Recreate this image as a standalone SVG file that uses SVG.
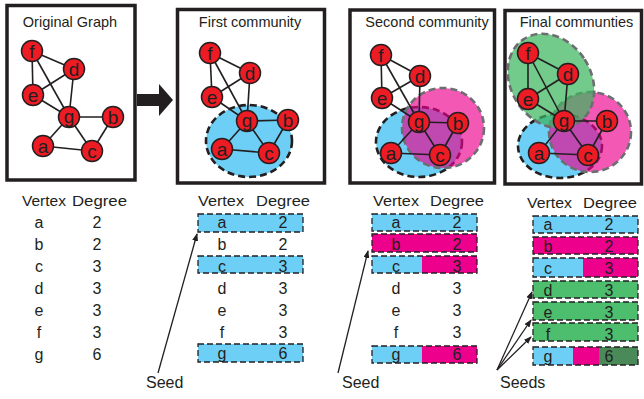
<svg xmlns="http://www.w3.org/2000/svg" width="644" height="399" viewBox="0 0 644 399">
<defs>
<style>
.panel{fill:#fff;stroke:#231f20;stroke-width:3.5}
.title{font-family:"Liberation Sans",Arial,sans-serif;font-size:14.5px;fill:#231f20;text-anchor:middle}
.edge{stroke:#231f20;stroke-width:1.6;fill:none}
.node circle{fill:#ed1c24;stroke:#231f20;stroke-width:1.5}
.node text{font-family:"Liberation Sans",Arial,sans-serif;font-size:19px;fill:#231f20;text-anchor:middle}
.blue{fill:#6dcff6;stroke:#231f20;stroke-width:2.6;stroke-dasharray:7 4}
.pink{fill:#ec008c;fill-opacity:0.65;stroke:#6d6e71;stroke-width:2.6;stroke-dasharray:7 4}
.green{fill:#3cb55e;fill-opacity:0.72;stroke:#6d6e71;stroke-width:2.6;stroke-dasharray:7 4}
.tt{font-family:"Liberation Sans",Arial,sans-serif;font-size:16px;fill:#231f20}
.th{font-family:"Liberation Sans",Arial,sans-serif;font-size:15.5px;fill:#231f20}
.tc{font-family:"Liberation Sans",Arial,sans-serif;font-size:16px;fill:#231f20;text-anchor:middle}
.box{fill:none;stroke:#231f20;stroke-width:1.3;stroke-dasharray:6 3}
.cb{fill:#6dcff6}
.cp{fill:#ec008c}
.cg{fill:#4dbd6e}
.cd{fill:#4a8a58}
.seed{stroke:#231f20;stroke-width:1.3;fill:none;marker-end:url(#ah)}
</style>
<marker id="ah" markerWidth="8" markerHeight="6" refX="7" refY="3" orient="auto" markerUnits="userSpaceOnUse">
<path d="M0,0 L8,3 L0,6 Z" fill="#231f20"/>
</marker>
</defs>

<!-- Panels -->
<rect class="panel" x="7" y="5.5" width="128" height="174.5"/>
<rect class="panel" x="177.5" y="9.5" width="147" height="173.5"/>
<rect class="panel" x="350" y="10" width="144.5" height="173"/>
<rect class="panel" x="505" y="10.5" width="136.5" height="173.5"/>
<text class="title" x="70" y="27">Original Graph</text>
<text class="title" x="250" y="27">First community</text>
<text class="title" x="427" y="27">Second community</text>
<text class="title" x="576.5" y="27">Final communties</text>

<!-- Big arrow -->
<polygon points="137,94 159,94 159,84 173,100 159,116 159,106 137,106" fill="#231f20"/>

<!-- Community regions -->
<ellipse class="blue" cx="249" cy="141" rx="43" ry="36"/>
<ellipse class="blue" cx="419" cy="142" rx="43" ry="35"/>
<ellipse class="pink" cx="443" cy="128" rx="41" ry="40"/>
<ellipse class="blue" cx="560" cy="146" rx="42" ry="32"/>
<ellipse class="pink" cx="590" cy="132" rx="41" ry="40"/>
<ellipse class="green" cx="551" cy="81" rx="40" ry="50" transform="rotate(-33 551 81)"/>

<!-- Connectors -->
<g id="connectors">
<g id="edges-p1" class="edge">
<line x1="32" y1="51" x2="74" y2="69"/><line x1="32" y1="51" x2="33" y2="95"/><line x1="32" y1="51" x2="69" y2="117"/>
<line x1="74" y1="69" x2="33" y2="95"/><line x1="74" y1="69" x2="69" y2="117"/><line x1="33" y1="95" x2="69" y2="117"/>
<line x1="69" y1="117" x2="113" y2="117"/><line x1="69" y1="117" x2="43" y2="146"/><line x1="69" y1="117" x2="92" y2="151"/>
<line x1="43" y1="146" x2="92" y2="151"/><line x1="113" y1="117" x2="92" y2="151"/>
</g>
<g id="edges-p2" class="edge">
<line x1="210" y1="53" x2="250" y2="73"/><line x1="210" y1="53" x2="212" y2="97"/><line x1="210" y1="53" x2="247" y2="121"/>
<line x1="250" y1="73" x2="212" y2="97"/><line x1="250" y1="73" x2="247" y2="121"/><line x1="212" y1="97" x2="247" y2="121"/>
<line x1="247" y1="121" x2="288" y2="120"/><line x1="247" y1="121" x2="222" y2="149"/><line x1="247" y1="121" x2="269" y2="153"/>
<line x1="222" y1="149" x2="269" y2="153"/><line x1="288" y1="120" x2="269" y2="153"/>
</g>
<g id="edges-p3" class="edge">
<line x1="381" y1="55" x2="420" y2="76"/><line x1="381" y1="55" x2="382" y2="98"/><line x1="381" y1="55" x2="419" y2="122"/>
<line x1="420" y1="76" x2="382" y2="98"/><line x1="420" y1="76" x2="419" y2="122"/><line x1="382" y1="98" x2="419" y2="122"/>
<line x1="419" y1="122" x2="458" y2="123"/><line x1="419" y1="122" x2="391" y2="153"/><line x1="419" y1="122" x2="440" y2="155"/>
<line x1="391" y1="153" x2="440" y2="155"/><line x1="458" y1="123" x2="440" y2="155"/>
</g>
<g id="edges-p4" class="edge">
<line x1="528" y1="53" x2="568" y2="74"/><line x1="528" y1="53" x2="528" y2="99"/><line x1="528" y1="53" x2="564" y2="121"/>
<line x1="568" y1="74" x2="528" y2="99"/><line x1="568" y1="74" x2="564" y2="121"/><line x1="528" y1="99" x2="564" y2="121"/>
<line x1="564" y1="121" x2="607" y2="121"/><line x1="564" y1="121" x2="539" y2="153"/><line x1="564" y1="121" x2="588" y2="155"/>
<line x1="539" y1="153" x2="588" y2="155"/><line x1="607" y1="121" x2="588" y2="155"/>
</g>
<g id="seed-arrows">
<line class="seed" x1="158" y1="373" x2="197" y2="234"/>
<line class="seed" x1="338" y1="373" x2="368" y2="251"/>
<line class="seed" x1="497" y1="370" x2="532" y2="292"/>
<line class="seed" x1="497" y1="370" x2="531" y2="320"/>
<line class="seed" x1="497" y1="370" x2="531" y2="337"/>
</g>
</g>

<!-- Nodes panel 1 -->
<g id="p1-f" class="node"><circle cx="32" cy="51" r="10.5"/><text x="32" y="57.5">f</text></g>
<g id="p1-d" class="node"><circle cx="74" cy="69" r="10.5"/><text x="74" y="75.5">d</text></g>
<g id="p1-e" class="node"><circle cx="33" cy="95" r="10.5"/><text x="33" y="101.5">e</text></g>
<g id="p1-g" class="node"><circle cx="69" cy="117" r="10.5"/><text x="69" y="122.5">g</text></g>
<g id="p1-b" class="node"><circle cx="113" cy="117" r="10.5"/><text x="113" y="123.5">b</text></g>
<g id="p1-a" class="node"><circle cx="43" cy="146" r="10.5"/><text x="43" y="152.5">a</text></g>
<g id="p1-c" class="node"><circle cx="92" cy="151" r="10.5"/><text x="92" y="157.5">c</text></g>
<!-- Nodes panel 2 -->
<g id="p2-f" class="node"><circle cx="210" cy="53" r="10.5"/><text x="210" y="59.5">f</text></g>
<g id="p2-d" class="node"><circle cx="250" cy="73" r="10.5"/><text x="250" y="79.5">d</text></g>
<g id="p2-e" class="node"><circle cx="212" cy="97" r="10.5"/><text x="212" y="103.5">e</text></g>
<g id="p2-g" class="node"><circle cx="247" cy="121" r="10.5"/><text x="247" y="126.5">g</text></g>
<g id="p2-b" class="node"><circle cx="288" cy="120" r="10.5"/><text x="288" y="126.5">b</text></g>
<g id="p2-a" class="node"><circle cx="222" cy="149" r="10.5"/><text x="222" y="155.5">a</text></g>
<g id="p2-c" class="node"><circle cx="269" cy="153" r="10.5"/><text x="269" y="159.5">c</text></g>
<!-- Nodes panel 3 -->
<g id="p3-f" class="node"><circle cx="381" cy="55" r="10.5"/><text x="381" y="61.5">f</text></g>
<g id="p3-d" class="node"><circle cx="420" cy="76" r="10.5"/><text x="420" y="82.5">d</text></g>
<g id="p3-e" class="node"><circle cx="382" cy="98" r="10.5"/><text x="382" y="104.5">e</text></g>
<g id="p3-g" class="node"><circle cx="419" cy="122" r="10.5"/><text x="419" y="127.5">g</text></g>
<g id="p3-b" class="node"><circle cx="458" cy="123" r="10.5"/><text x="458" y="129.5">b</text></g>
<g id="p3-a" class="node"><circle cx="391" cy="153" r="10.5"/><text x="391" y="159.5">a</text></g>
<g id="p3-c" class="node"><circle cx="440" cy="155" r="10.5"/><text x="440" y="161.5">c</text></g>
<!-- Nodes panel 4 -->
<g id="p4-f" class="node"><circle cx="528" cy="53" r="10.5"/><text x="528" y="59.5">f</text></g>
<g id="p4-d" class="node"><circle cx="568" cy="74" r="10.5"/><text x="568" y="80.5">d</text></g>
<g id="p4-e" class="node"><circle cx="528" cy="99" r="10.5"/><text x="528" y="105.5">e</text></g>
<g id="p4-g" class="node"><circle cx="564" cy="121" r="10.5"/><text x="564" y="126.5">g</text></g>
<g id="p4-b" class="node"><circle cx="607" cy="121" r="10.5"/><text x="607" y="127.5">b</text></g>
<g id="p4-a" class="node"><circle cx="539" cy="153" r="10.5"/><text x="539" y="159.5">a</text></g>
<g id="p4-c" class="node"><circle cx="588" cy="155" r="10.5"/><text x="588" y="161.5">c</text></g>

<!-- Table 1 -->
<g id="table1">
<text class="th" x="22" y="206" textLength="44" lengthAdjust="spacingAndGlyphs">Vertex</text><text class="th" x="72" y="206" textLength="55" lengthAdjust="spacingAndGlyphs">Degree</text>
<text class="tc" x="39" y="228">a</text><text class="tc" x="97" y="228">2</text>
<text class="tc" x="39" y="250">b</text><text class="tc" x="97" y="250">2</text>
<text class="tc" x="39" y="272">c</text><text class="tc" x="97" y="272">3</text>
<text class="tc" x="39" y="294">d</text><text class="tc" x="97" y="294">3</text>
<text class="tc" x="39" y="316">e</text><text class="tc" x="97" y="316">3</text>
<text class="tc" x="39" y="338">f</text><text class="tc" x="97" y="338">3</text>
<text class="tc" x="39" y="360">g</text><text class="tc" x="97" y="360">6</text>
</g>

<!-- Table 2 -->
<g id="table2">
<rect class="cb" x="198" y="214" width="105" height="18"/><rect class="box" x="198" y="214" width="105" height="18"/>
<rect class="cb" x="198" y="256" width="105" height="17"/><rect class="box" x="198" y="256" width="105" height="17"/>
<rect class="cb" x="198" y="344" width="105" height="18"/><rect class="box" x="198" y="344" width="105" height="18"/>
<text class="th" x="198" y="206" textLength="46" lengthAdjust="spacingAndGlyphs">Vertex</text><text class="th" x="256" y="206" textLength="54" lengthAdjust="spacingAndGlyphs">Degree</text>
<text class="tc" x="222" y="228">a</text><text class="tc" x="283" y="228">2</text>
<text class="tc" x="222" y="250">b</text><text class="tc" x="283" y="250">2</text>
<text class="tc" x="222" y="272">c</text><text class="tc" x="283" y="272">3</text>
<text class="tc" x="222" y="294">d</text><text class="tc" x="283" y="294">3</text>
<text class="tc" x="222" y="316">e</text><text class="tc" x="283" y="316">3</text>
<text class="tc" x="222" y="338">f</text><text class="tc" x="283" y="338">3</text>
<text class="tc" x="222" y="359">g</text><text class="tc" x="283" y="359">6</text>
<text class="tt" x="146" y="388">Seed</text>
</g>

<!-- Table 3 -->
<g id="table3">
<rect class="cb" x="372" y="214" width="105" height="17"/><rect class="box" x="372" y="214" width="105" height="17"/>
<rect class="cp" x="372" y="234" width="105" height="18"/><rect class="box" x="372" y="234" width="105" height="18"/>
<rect class="cb" x="372" y="256" width="50" height="17"/><rect class="cp" x="422" y="256" width="55" height="17"/><rect class="box" x="372" y="256" width="105" height="17"/>
<rect class="cb" x="372" y="346" width="50" height="17"/><rect class="cp" x="422" y="346" width="55" height="17"/><rect class="box" x="372" y="346" width="105" height="17"/>
<text class="th" x="373" y="206" textLength="46" lengthAdjust="spacingAndGlyphs">Vertex</text><text class="th" x="430" y="206" textLength="54" lengthAdjust="spacingAndGlyphs">Degree</text>
<text class="tc" x="396" y="228">a</text><text class="tc" x="457" y="228">2</text>
<text class="tc" x="396" y="250">b</text><text class="tc" x="457" y="250">2</text>
<text class="tc" x="396" y="272">c</text><text class="tc" x="457" y="272">3</text>
<text class="tc" x="396" y="294">d</text><text class="tc" x="457" y="294">3</text>
<text class="tc" x="396" y="316">e</text><text class="tc" x="457" y="316">3</text>
<text class="tc" x="396" y="338">f</text><text class="tc" x="457" y="338">3</text>
<text class="tc" x="396" y="360">g</text><text class="tc" x="457" y="360">6</text>
<text class="tt" x="342" y="388">Seed</text>
</g>

<!-- Table 4 -->
<g id="table4">
<rect class="cb" x="533" y="216" width="105" height="17"/><rect class="box" x="533" y="216" width="105" height="17"/>
<rect class="cp" x="533" y="237" width="105" height="17"/><rect class="box" x="533" y="237" width="105" height="17"/>
<rect class="cb" x="533" y="258" width="50" height="19"/><rect class="cp" x="583" y="258" width="55" height="19"/><rect class="box" x="533" y="258" width="105" height="19"/>
<rect class="cg" x="533" y="281" width="105" height="17"/><rect class="box" x="533" y="281" width="105" height="17"/>
<rect class="cg" x="533" y="302" width="105" height="18"/><rect class="box" x="533" y="302" width="105" height="18"/>
<rect class="cg" x="533" y="323" width="105" height="18"/><rect class="box" x="533" y="323" width="105" height="18"/>
<rect class="cb" x="533" y="347" width="40" height="18"/><rect class="cp" x="573" y="347" width="26" height="18"/><rect class="cd" x="599" y="347" width="39" height="18"/><rect class="box" x="533" y="347" width="105" height="18"/>
<text class="th" x="527" y="208" textLength="45" lengthAdjust="spacingAndGlyphs">Vertex</text><text class="th" x="583" y="208" textLength="54" lengthAdjust="spacingAndGlyphs">Degree</text>
<text class="tc" x="548" y="230">a</text><text class="tc" x="609" y="230">2</text>
<text class="tc" x="548" y="252">b</text><text class="tc" x="609" y="252">2</text>
<text class="tc" x="548" y="274">c</text><text class="tc" x="609" y="274">3</text>
<text class="tc" x="548" y="296">d</text><text class="tc" x="609" y="296">3</text>
<text class="tc" x="548" y="318">e</text><text class="tc" x="609" y="318">3</text>
<text class="tc" x="548" y="340">f</text><text class="tc" x="609" y="340">3</text>
<text class="tc" x="548" y="362">g</text><text class="tc" x="609" y="362">6</text>
<text class="tt" x="500" y="388">Seeds</text>
</g>
</svg>
